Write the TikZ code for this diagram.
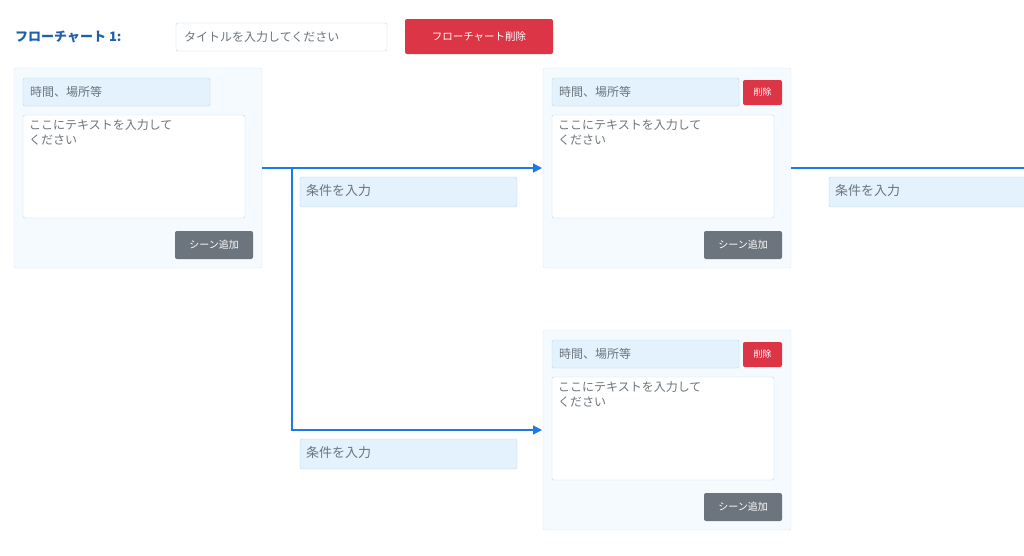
\documentclass[tikz,border=0pt]{standalone}
\usepackage{fontspec}
\setmainfont{Noto Sans CJK JP}
\usetikzlibrary{arrows.meta}
\definecolor{ttl}{HTML}{1F5FA6}
\definecolor{red1}{HTML}{DC3545}
\definecolor{gry}{HTML}{6C757D}
\definecolor{lb}{HTML}{E3F2FD}
\definecolor{lbb}{HTML}{B8D8F0}
\definecolor{card}{HTML}{F5FAFF}
\definecolor{cardb}{HTML}{DDE3EA}
\definecolor{ln}{HTML}{1A7BE8}
\definecolor{ph}{HTML}{6C757D}
\tikzset{
 cardbox/.style={draw=cardb,fill=card,rounded corners=2pt},
 fld/.style={draw=lbb,fill=lb,rounded corners=1.5pt},
 ta/.style={draw=lbb,fill=white,rounded corners=2pt},
 gbtn/.style={fill=gry,rounded corners=2pt},
 rbtn/.style={fill=red1,rounded corners=2pt},
 phtxt/.style={text=ph,font=\fontsize{12}{13}\selectfont,anchor=west,inner sep=0},
 btxt/.style={text=white,font=\fontsize{9}{10}\selectfont,inner sep=0},
 conn/.style={draw=ln,line width=1.2pt},
}
\begin{document}
\begin{tikzpicture}[x=1pt,y=-1pt]
\useasboundingbox (0,0) rectangle (1024,555);
\node[anchor=west,text=ttl,font=\bfseries\fontsize{13}{14}\selectfont,inner sep=0] (title) at (15,37) {フローチャート 1:};
\draw[draw=lbb,fill=white,rounded corners=2pt] (176,23) rectangle (387,51);
\node[phtxt] (tin) at (184,37) {タイトルを入力してください};
\fill[rbtn] (405,19) rectangle (553,54);
\node[btxt,font=\fontsize{10.5}{12}\selectfont] (del) at (479,36.5) {フローチャート削除};
% cards
\foreach \cx/\cy/\d/\n in {14/68/0/a,543/68/1/b,543/330/1/c}{
 \draw[cardbox] (\cx,\cy) rectangle ++(248,200);
 \ifnum\d=1
  \draw[fld] (\cx+9,\cy+10) rectangle ++(187,28);
  \fill[rbtn] (\cx+200,\cy+12) rectangle ++(39,25);
  \node[btxt] at (\cx+219.5,\cy+24.5) {削除};
 \else
  \draw[fld] (\cx+9,\cy+10) rectangle ++(187,28);
 \fi
 \node[phtxt] at (\cx+16,\cy+24) {時間、場所等};
 \draw[ta] (\cx+9,\cy+47) rectangle ++(222,103);
 \node[phtxt,anchor=north west,align=left,font=\fontsize{12}{15}\selectfont] at (\cx+15,\cy+51) {ここにテキストを入力して\\ください};
 \fill[gbtn] (\cx+161,\cy+163) rectangle ++(78,28);
 \node[btxt,font=\fontsize{10}{11}\selectfont] at (\cx+200,\cy+177) {シーン追加};
}
\coordinate (a) at (262,168);
\coordinate (j) at (292,168);
\coordinate (b) at (542,168);
\coordinate (c) at (542,430);
\coordinate (b2) at (791,168);
\coordinate (e) at (1024,168);
\draw[conn,-{Triangle[length=9pt,width=9pt]}] (a) -- (j) -- (b);
\draw[conn,-{Triangle[length=9pt,width=9pt]}] (j) |- (c);
\draw[conn] (b2) -- (e);
\foreach \x/\y in {300/177,300/439,829/177}{
 \draw[fld] (\x,\y) rectangle (\x+217,\y+30);
 \node[phtxt,font=\fontsize{13}{14}\selectfont] at (\x+6,\y+14) {条件を入力};
}
\end{tikzpicture}
\end{document}
